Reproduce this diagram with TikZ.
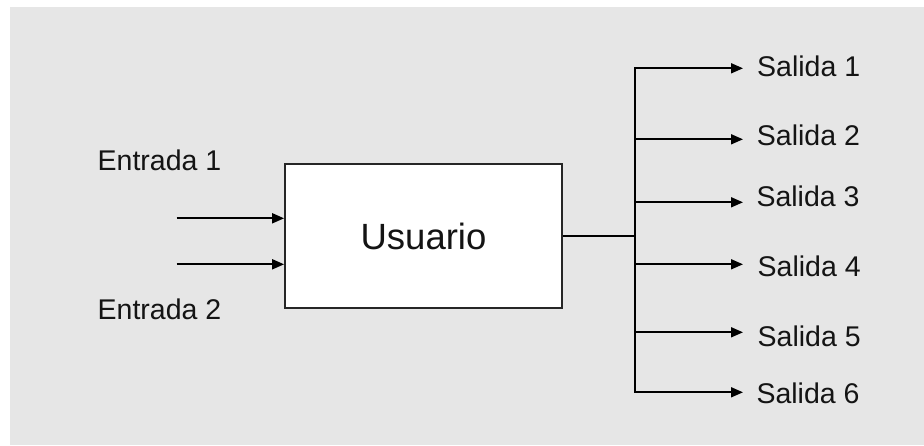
\documentclass[tikz,border=0pt]{standalone}
\usepackage{fontspec}
\setmainfont{Liberation Sans}
\usetikzlibrary{arrows.meta}
\definecolor{bggray}{HTML}{E6E6E6}
\definecolor{txtc}{HTML}{141414}
\begin{document}
\begin{tikzpicture}[x=1pt,y=-1pt,
  lbl/.style={anchor=west,inner sep=0pt,text=txtc,font=\fontsize{28.5}{30}\selectfont},
  wire/.style={line width=1.8pt,draw=black},
  arr/.style={wire,-{Triangle[length=12pt,width=10pt]}},
  userbox/.style={draw=black!85,line width=1.8pt,fill=white,minimum width=277pt,minimum height=144pt,inner sep=0pt,text=txtc,font=\fontsize{36.5}{38}\selectfont}]
\useasboundingbox (0,0) rectangle (924,445);
\fill[bggray] (10,7) rectangle (924,445);
% main box
\node[userbox] (user) at (423.5,236) {Usuario};
% inputs
\node[lbl] (e1) at (97.5,160.5) {Entrada 1};
\node[lbl] (e2) at (97.5,309.5) {Entrada 2};
\coordinate (in1) at (176.7,218.3);
\coordinate (in2) at (176.7,264.3);
\draw[arr] (in1) -- (in1 -| user.west);
\draw[arr] (in2) -- (in2 -| user.west);
% outputs
\coordinate (j) at (635,236);
\coordinate (b1) at (635,68.3);
\coordinate (b2) at (635,139.3);
\coordinate (b3) at (635,202.3);
\coordinate (b4) at (635,264.3);
\coordinate (b5) at (635,332.3);
\coordinate (b6) at (635,392.3);
\coordinate (a1) at (743,68.3);
\coordinate (a2) at (743,139.3);
\coordinate (a3) at (743,202.3);
\coordinate (a4) at (743,264.3);
\coordinate (a5) at (743,332.3);
\coordinate (a6) at (743,392.3);
\draw[wire] (user.east) -- (j);
\draw[wire,line cap=rect] (b1) -- (b6);
\foreach \i in {1,...,6} {\draw[arr] (b\i) -- (a\i);}
\node[lbl] (s1) at (757,66.3) {Salida 1};
\node[lbl] (s2) at (756.7,135.5) {Salida 2};
\node[lbl] (s3) at (756.3,196.7) {Salida 3};
\node[lbl] (s4) at (757.5,266.7) {Salida 4};
\node[lbl] (s5) at (757.5,336.7) {Salida 5};
\node[lbl] (s6) at (756.3,393.3) {Salida 6};
\end{tikzpicture}
\end{document}
